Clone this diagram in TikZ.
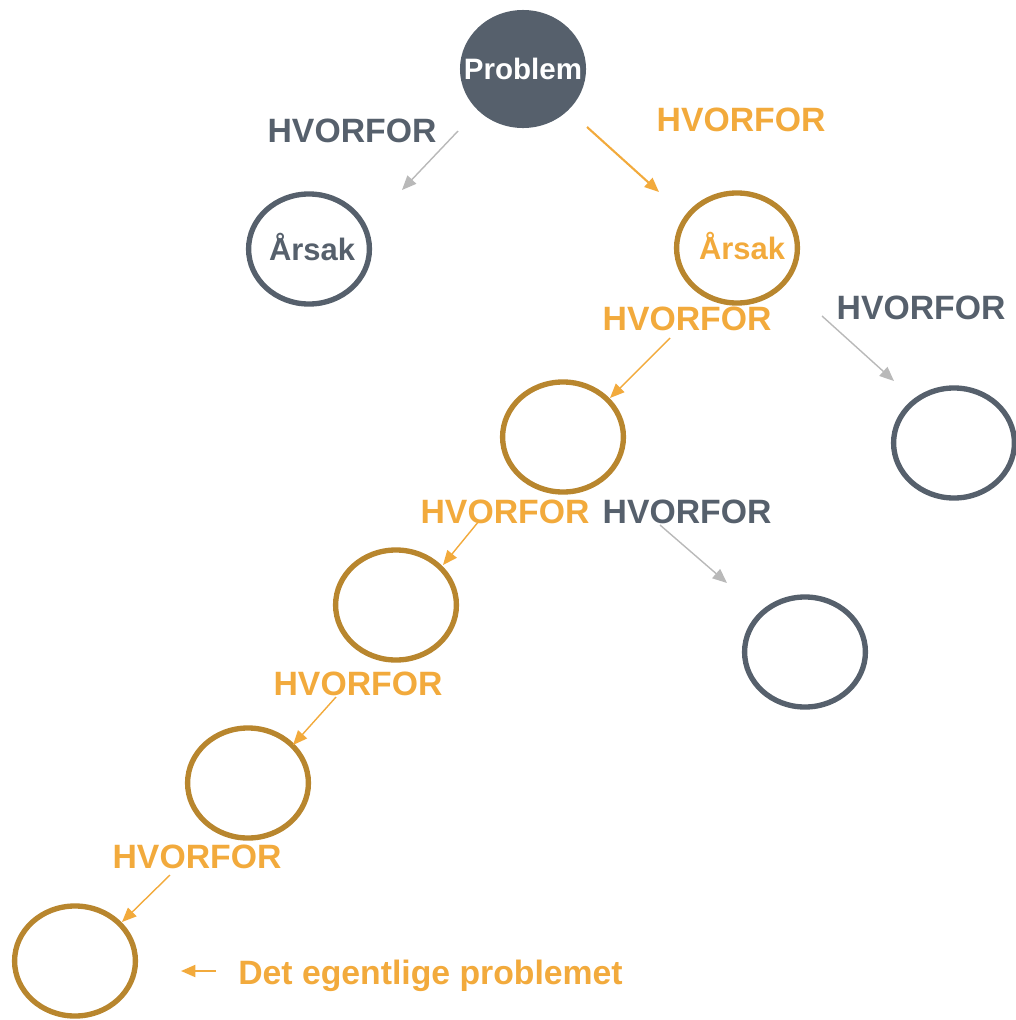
\documentclass[tikz,border=0pt]{standalone}
\usepackage{fontspec}
\setmainfont{Liberation Sans}
\usetikzlibrary{shapes.geometric,arrows.meta}
\definecolor{skifer}{RGB}{86,96,108}
\definecolor{oransje}{RGB}{242,170,60}
\definecolor{bronse}{RGB}{184,134,46}
\definecolor{lysgraa}{RGB}{185,185,185}
\tikzset{
  sirkel/.style={ellipse, line width=3.8pt, minimum width=3.02cm, minimum height=2.75cm, inner sep=0pt},
  gulsirkel/.style={sirkel, draw=bronse},
  graasirkel/.style={sirkel, draw=skifer},
  innhold/.style={font=\fontsize{22}{26}\selectfont\bfseries, inner sep=0pt},
  hvorfor/.style={font=\fontsize{24}{28}\selectfont\bfseries, inner sep=0pt},
  pil/.style={-{Triangle[length=3.6mm,width=3mm]}, line width=1pt},
}
\begin{document}
\begin{tikzpicture}[x=0.025cm,y=-0.025cm]
	\useasboundingbox (0,0) rectangle (1015,1020);
	% sirkler
	\node[ellipse, fill=skifer, minimum width=3.15cm, minimum height=2.95cm, inner sep=0pt] (problem) at (523,69) {};
	\node[graasirkel] (arsakA) at (309,249) {};
	\node[gulsirkel] (arsakB) at (737,248) {};
	\node[gulsirkel] (c3) at (563,437) {};
	\node[graasirkel] (g3) at (954,443) {};
	\node[gulsirkel] (c4) at (396,605) {};
	\node[graasirkel] (g4) at (805,652) {};
	\node[gulsirkel] (c5) at (248,783) {};
	\node[gulsirkel] (c6) at (75,961) {};
	\node[innhold, text=white, font=\fontsize{21}{25}\selectfont\bfseries] (problemtekst) at (problem) {Problem};
	\node[innhold, text=skifer] (arsakAtekst) at (312,247) {Årsak};
	\node[innhold, text=oransje] (arsakBtekst) at (742,246) {Årsak};
	% tekster
	\node[hvorfor, text=skifer] (h1) at (352,131) {HVORFOR};
	\node[hvorfor, text=oransje] (h2) at (741,120) {HVORFOR};
	\node[hvorfor, text=oransje] (h3) at (687,319) {HVORFOR};
	\node[hvorfor, text=skifer] (h4) at (921,308) {HVORFOR};
	\node[hvorfor, text=oransje] (h5) at (505,512) {HVORFOR};
	\node[hvorfor, text=skifer] (h6) at (687,512) {HVORFOR};
	\node[hvorfor, text=oransje] (h7) at (358,684) {HVORFOR};
	\node[hvorfor, text=oransje] (h8) at (197,857) {HVORFOR};
	\node[hvorfor, text=oransje, anchor=base west] (egentlig) at (238,984) {Det egentlige problemet};
	% piler
	\coordinate (p1a) at (458,131); \coordinate (p1b) at (402,190);
	\coordinate (p2a) at (587,127); \coordinate (p2b) at (659,192);
	\coordinate (p3a) at (670,338); \coordinate (p3b) at (610,398);
	\coordinate (p4a) at (822,316); \coordinate (p4b) at (894,381);
	\coordinate (p5a) at (479,521); \coordinate (p5b) at (443,565);
	\coordinate (p6a) at (660,525); \coordinate (p6b) at (727,583);
	\coordinate (p7a) at (336,697); \coordinate (p7b) at (293,745);
	\coordinate (p8a) at (170,875); \coordinate (p8b) at (122,922);
	\coordinate (p9a) at (216,971); \coordinate (p9b) at (181,971);
	\draw[pil, lysgraa] (p1a)--(p1b);
	\draw[pil, oransje, line width=1.5pt] (p2a)--(p2b);
	\draw[pil, oransje] (p3a)--(p3b);
	\draw[pil, lysgraa] (p4a)--(p4b);
	\draw[pil, oransje] (p5a)--(p5b);
	\draw[pil, lysgraa] (p6a)--(p6b);
	\draw[pil, oransje] (p7a)--(p7b);
	\draw[pil, oransje] (p8a)--(p8b);
	\draw[pil, oransje, line width=1.5pt] (p9a)--(p9b);
\end{tikzpicture}
\end{document}
